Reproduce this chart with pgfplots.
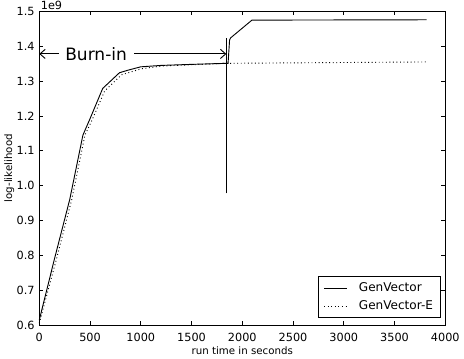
\documentclass[border=0pt]{standalone}
\usepackage{fontspec}
\setmainfont{DejaVu Sans}
\usepackage{pgfplots}
\pgfplotsset{compat=1.18}
\usetikzlibrary{arrows.meta}

\begin{document}
\begin{tikzpicture}
\begin{axis}[
    scale only axis,
    width=309.75pt, height=239.25pt,
    xmin=0, xmax=4000,
    ymin=0.6, ymax=1.5,
    xtick={0,500,...,4000},
    ytick={0.6,0.7,...,1.5},
    yticklabel style={/pgf/number format/.cd,fixed,fixed zerofill,precision=1},
    xticklabel style={yshift=-2.5pt,/pgf/number format/.cd,fixed,1000 sep={}},
    /pgf/number format/assume math mode=true,
    tick align=inside,
    major tick length=3pt,
    tick style={black, line width=0.5pt},
    ticklabel style={font=\fontsize{8.6}{10}\selectfont},
    xlabel={run time in seconds},
    ylabel={log-likelihood},
    label style={font=\fontsize{7.8}{9}\selectfont},
    xlabel style={yshift=3pt},
    ylabel style={yshift=-5pt},
    axis line style={line width=0.6pt},
    legend style={at={(rel axis cs:0.99,0.022)}, anchor=south east,
        font=\fontsize{9.2}{11}\selectfont, draw=black, line width=0.6pt,
        cells={anchor=west}, row sep=1.5pt, inner xsep=4pt, inner ysep=2.5pt,
        /tikz/every odd column/.append style={column sep=7pt}},
    legend cell align=left,
    clip=false,
]
\addplot[black, line width=0.7pt] coordinates {
    (0,0.614) (150,0.790) (300,0.960) (430,1.145) (500,1.192)
    (625,1.279) (790,1.324) (870,1.331) (1000,1.341) (1200,1.345)
    (1500,1.348) (1843,1.351) (1860,1.351) (1875,1.418) (1885,1.424)
    (2095,1.475) (3816,1.476)
};
\addlegendentry{GenVector}
\addplot[black, dotted, line width=0.7pt] coordinates {
    (0,0.605) (170,0.790) (320,0.960) (450,1.145) (520,1.188)
    (645,1.272) (810,1.318) (1000,1.335) (1200,1.343) (1500,1.347)
    (1843,1.351) (3816,1.355)
};
\addlegendentry{GenVector-E}
\addplot[black, line width=0.7pt, forget plot] coordinates {
    (1843,0.978) (1843,1.423)
};
\draw[{Straight Barb[length=4pt,width=7pt]}-{Straight Barb[length=4pt,width=7pt]}, line width=0.7pt]
    (axis cs:0,1.378) -- (axis cs:1843,1.378);
\node[fill=white, inner xsep=5pt, inner ysep=2pt, font=\fontsize{13}{15}\selectfont]
    at (axis cs:560,1.378) {Burn-in};
\node[anchor=south west, inner sep=1pt, font=\fontsize{8.6}{10}\selectfont]
    at (rel axis cs:0,1) {1e9};
\end{axis}
\end{tikzpicture}
\end{document}
